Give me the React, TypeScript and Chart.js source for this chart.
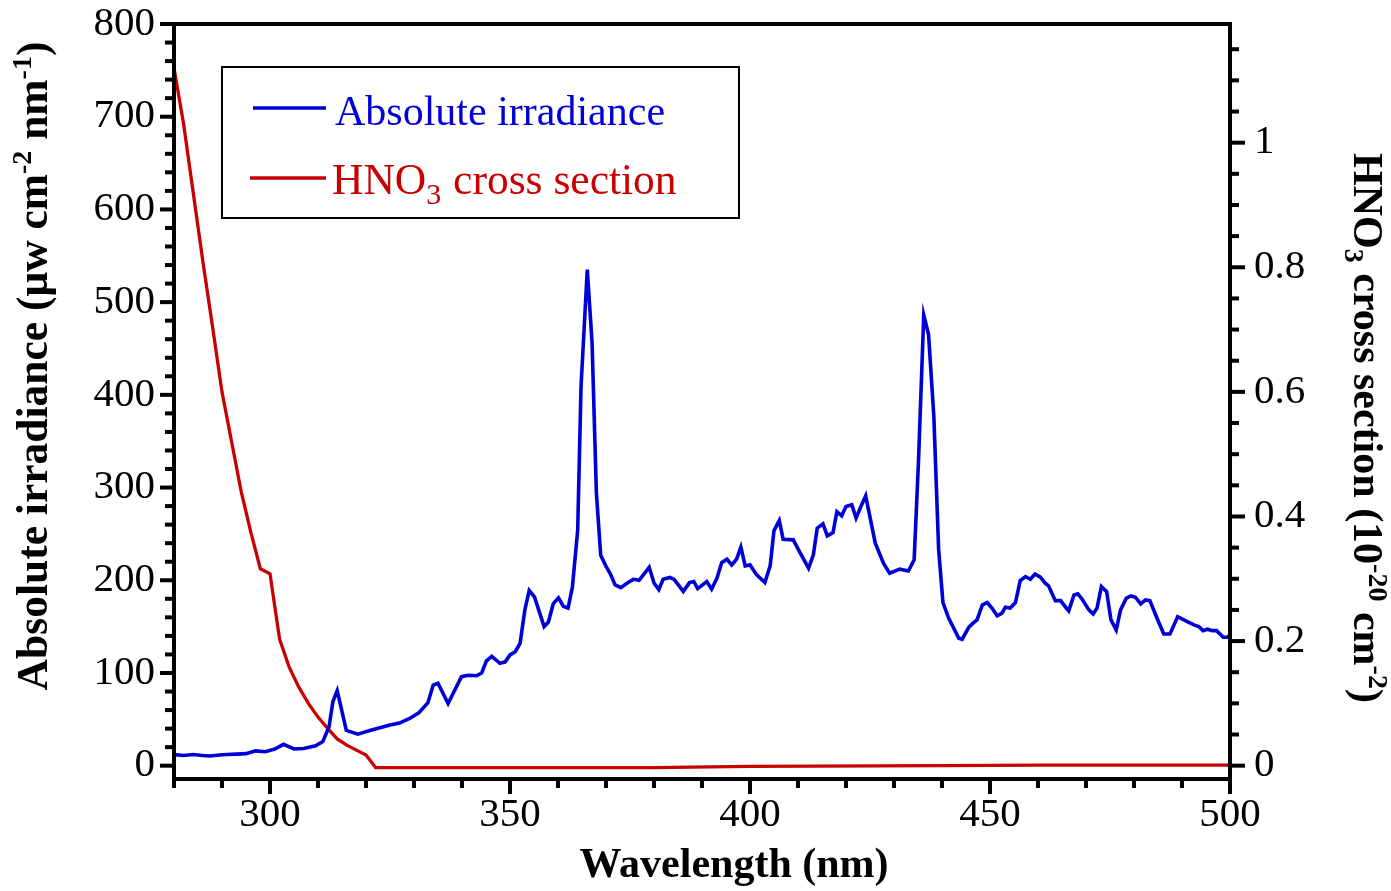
import React, { useEffect, useRef } from 'react';
import { Chart, registerables } from 'chart.js';

Chart.register(...registerables);

// Lamp spectrum: wavelength (nm) and absolute irradiance (µW cm-2 nm-1)
const irrWavelength = [
  280, 282, 284, 286, 287.5, 289.5, 291, 293, 295, 297, 299, 301, 302.8, 305, 307, 309.5, 311, 312.3, 313.1, 314,
  315.9, 318.3, 320.8, 322.9, 325, 327, 329.1, 331, 332.9, 334, 335, 337.1, 339.9, 341.3, 343, 344.1, 345.1, 346.2,
  347.9, 349, 350, 351.1, 352.1, 353.1, 354, 355.1, 357.1, 358, 359, 360.1, 361.1, 362.1, 363, 364.1, 364.8, 366.1,
  367.1, 368, 368.9, 370, 371, 371.9, 373.1, 374.6, 375.7, 376.9, 379, 380, 381, 381.9, 383.3, 384.2, 386.1, 387.4,
  388.3, 389.1, 391, 392, 393.1, 394.1, 395.2, 396.2, 397.2, 398.1, 399, 400, 401.4, 403.1, 404.2, 405, 406.1, 406.9,
  409, 410.4, 412.2, 413.2, 414, 415.2, 416.1, 417.3, 418.1, 419.1, 420, 421.2, 422.1, 423.1, 424.1, 426.1, 427.8,
  429.1, 431.2, 433, 434.2, 435.1, 436.2, 437.2, 438.3, 439.3, 440.2, 441.4, 443.5, 444.2, 445.6, 446.6, 447.3, 448.4,
  449.4, 450.4, 451.5, 452.5, 453.2, 454.2, 455.3, 456.3, 457.4, 458.4, 459.4, 460.5, 461.5, 462.2, 463.6, 464.7,
  465.9, 466.4, 467.5, 468.3, 469.2, 470.6, 471.5, 472.3, 473.2, 474.3, 475.2, 476.3, 477.2, 478.4, 479.4, 480.3,
  481.4, 482.4, 483.3, 484.8, 486.2, 487.5, 489.1, 491.1, 492.5, 493.5, 494.4, 495.3, 496.3, 497.2, 498.6, 499.6, 500,
];
const irradiance = [
  12, 11, 12, 11, 10.5, 11.5, 12, 12.5, 13, 16, 15, 18, 23, 18, 18.5, 21.5, 26, 42, 69, 81,
  38, 34, 38, 41, 44, 46, 51, 57, 68, 87, 89, 67, 96, 97.5, 97, 100, 113, 118,
  110.5, 112, 119.5, 123, 132, 168, 189, 182, 150, 155, 174.5, 181, 172, 170, 192.5, 254, 409, 535,
  456, 294, 227, 215, 206, 195, 192, 197.5, 201, 200, 214, 197, 190, 201, 203, 201, 188, 197.5,
  198.6, 191, 198.6, 190.4, 202, 219, 222.7, 216.6, 222.7, 235.7, 215.5, 216.6, 205.8, 197.5, 215.5, 253.6, 264.4, 244.3,
  243.6, 230, 213, 227.4, 256.2, 260.8, 248, 251.5, 274, 269.5, 279.5, 281.4, 267, 279.5, 291, 240, 218.4,
  207.6, 212, 210, 222, 328, 486, 465, 377, 233, 176, 159, 137.5, 136.4, 149.4, 154.3, 157.2, 173.4,
  176, 170, 161.6, 164.5, 171, 170, 176, 199.7, 204, 201, 206.6, 203.3, 196.8, 194, 178, 178,
  170, 167, 184.2, 185.3, 179.6, 168, 163.7, 170, 193.2, 187.8, 157.2, 146.4, 168, 180.7, 183.1, 181.7,
  174.5, 178.8, 178, 159, 142, 142, 160.8, 155.4, 151.8, 150, 145.7, 147.2, 145.7, 145.7, 138.6, 138.6, 142,
];

// HNO3 absorption cross section (1e-20 cm2)
const hno3Wavelength = [
  280, 282, 284, 286, 288, 290, 292, 294, 296, 298, 300, 302, 304, 306, 308, 310, 312, 314, 316, 318, 320,
  322, 340, 380, 400, 440, 460, 500,
];
const hno3Cross = [
  1.12, 1.03, 0.92, 0.81, 0.706, 0.6, 0.52, 0.44, 0.375, 0.316, 0.308, 0.203, 0.158, 0.126, 0.1, 0.078, 0.06, 0.043,
  0.033, 0.025, 0.017, -0.003, -0.003, -0.003, -0.001, 0, 0.001, 0.001,
];

const xMajorTicks = [300, 350, 400, 450, 500];
const xMinorTicks = [280, 290, 310, 320, 330, 340, 360, 370, 380, 390, 410, 420, 430, 440, 460, 470, 480, 490];
const leftMajorTicks = [0, 100, 200, 300, 400, 500, 600, 700, 800];
const leftMinorTicks = [
  20, 40, 60, 80, 120, 140, 160, 180, 220, 240, 260, 280, 320, 340, 360, 380, 420, 440, 460, 480,
  520, 540, 560, 580, 620, 640, 660, 680, 720, 740, 760, 780,
];
const rightMajorTicks = [0, 0.2, 0.4, 0.6, 0.8, 1];
const rightMinorTicks = [0.05, 0.1, 0.15, 0.25, 0.3, 0.35, 0.45, 0.5, 0.55, 0.65, 0.7, 0.75, 0.85, 0.9, 0.95, 1.05, 1.1, 1.15];

const BLUE = '#0000d6';
const RED = '#c80000';
const FONT = "'Liberation Serif', 'Times New Roman', Times, serif";

type Run = { t: string; s: number; dy: number; gap?: number };

function runsWidth(ctx: CanvasRenderingContext2D, runs: Run[], bold: boolean) {
  let w = 0;
  for (const r of runs) {
    ctx.font = `${bold ? 'bold ' : ''}${r.s}px ${FONT}`;
    w += ctx.measureText(r.t).width + (r.gap || 0);
  }
  return w;
}

function drawRuns(ctx: CanvasRenderingContext2D, runs: Run[], bold: boolean, x0: number) {
  let x = x0;
  for (const r of runs) {
    ctx.font = `${bold ? 'bold ' : ''}${r.s}px ${FONT}`;
    ctx.fillText(r.t, x, r.dy);
    x += ctx.measureText(r.t).width + (r.gap || 0);
  }
}

const leftTitle: Run[] = [
  { t: 'Absolute irradiance (\u03bcw cm', s: 43.5, dy: 0 },
  { t: '-2', s: 28, dy: -16 },
  { t: ' nm', s: 43.5, dy: 0 },
  { t: '-1', s: 28, dy: -16 },
  { t: ')', s: 43.5, dy: 0 },
];
const rightTitle: Run[] = [
  { t: 'HNO', s: 42, dy: 0 },
  { t: '3', s: 28, dy: 9 },
  { t: ' cross section (10', s: 42, dy: 0 },
  { t: '-20', s: 28, dy: -15 },
  { t: ' cm', s: 42, dy: 0 },
  { t: '-2', s: 28, dy: -15 },
  { t: ')', s: 42, dy: 0 },
];
const bottomTitle: Run[] = [{ t: 'Wavelength (nm)', s: 42, dy: 0 }];
const legendBlue: Run[] = [{ t: 'Absolute irradiance', s: 42, dy: 0 }];
const legendRed: Run[] = [
  { t: 'HNO', s: 43.5, dy: 0 },
  { t: '3', s: 30, dy: 10, gap: 1 },
  { t: ' cross section', s: 43.5, dy: 0 },
];

const framePlugin = {
  id: 'frameAndDecor',
  afterDraw(chart: any) {
    const ctx: CanvasRenderingContext2D = chart.ctx;
    const { left, right, top, bottom } = chart.chartArea;
    const xs = chart.scales.x;
    const yl = chart.scales.y;
    const yr = chart.scales.y2;
    ctx.save();
    ctx.strokeStyle = '#000';
    ctx.lineCap = 'butt';
    ctx.lineWidth = 4;

    // tick marks
    const tick = (x1: number, y1: number, x2: number, y2: number) => {
      ctx.beginPath();
      ctx.moveTo(x1, y1);
      ctx.lineTo(x2, y2);
      ctx.stroke();
    };
    for (const v of xMajorTicks) { const p = xs.getPixelForValue(v); tick(p, bottom, p, bottom + 15); }
    for (const v of xMinorTicks) { const p = xs.getPixelForValue(v); tick(p, bottom, p, bottom + 9); }
    for (const v of leftMajorTicks) { const p = yl.getPixelForValue(v); tick(left, p, left - 14, p); }
    for (const v of leftMinorTicks) { const p = yl.getPixelForValue(v); tick(left, p, left - 9, p); }
    for (const v of rightMajorTicks) { const p = yr.getPixelForValue(v); tick(right, p, right + 15, p); }
    for (const v of rightMinorTicks) { const p = yr.getPixelForValue(v); tick(right, p, right + 9, p); }

    // frame
    ctx.lineJoin = 'miter';
    ctx.strokeRect(left, top, right - left, bottom - top);

    // legend
    ctx.fillStyle = '#fff';
    ctx.fillRect(222, 67, 517, 151);
    ctx.lineWidth = 2;
    ctx.strokeRect(222, 67, 517, 151);
    ctx.lineWidth = 3.5;
    ctx.strokeStyle = BLUE;
    tick(253, 108, 326, 108);
    ctx.strokeStyle = RED;
    tick(250, 178, 326, 178);
    ctx.textBaseline = 'alphabetic';
    ctx.textAlign = 'left';
    ctx.fillStyle = BLUE;
    ctx.save(); ctx.translate(0, 125); drawRuns(ctx, legendBlue, false, 335); ctx.restore();
    ctx.fillStyle = RED;
    ctx.save(); ctx.translate(0, 194); drawRuns(ctx, legendRed, false, 332); ctx.restore();

    // axis titles
    ctx.fillStyle = '#000';
    let w = runsWidth(ctx, bottomTitle, true);
    ctx.save(); ctx.translate(734, 877); drawRuns(ctx, bottomTitle, true, -w / 2); ctx.restore();
    w = runsWidth(ctx, leftTitle, true);
    ctx.save(); ctx.translate(47, 366); ctx.rotate(-Math.PI / 2); drawRuns(ctx, leftTitle, true, -w / 2); ctx.restore();
    w = runsWidth(ctx, rightTitle, true);
    ctx.save(); ctx.translate(1354, 428); ctx.rotate(Math.PI / 2); drawRuns(ctx, rightTitle, true, -w / 2); ctx.restore();
    ctx.restore();
  },
};

export default function App() {
  const canvasRef = useRef<HTMLCanvasElement | null>(null);

  useEffect(() => {
    if (!canvasRef.current) return;
    const tickFont = { family: FONT, size: 41, lineHeight: 1 };
    const noPad = (s: any) => {
      s.paddingTop = 0;
      s.paddingBottom = 0;
      s.paddingLeft = 0;
      s.paddingRight = 0;
    };
    const chart = new Chart(canvasRef.current, {
      type: 'line',
      data: {
        datasets: [
          {
            label: 'Absolute irradiance',
            data: irrWavelength.map((x, i) => ({ x, y: irradiance[i] })),
            borderColor: BLUE,
            borderWidth: 3.6,
            pointRadius: 0,
            tension: 0,
            yAxisID: 'y',
          },
          {
            label: 'HNO3 cross section',
            data: hno3Wavelength.map((x, i) => ({ x, y: hno3Cross[i] })),
            borderColor: RED,
            borderWidth: 3.3,
            pointRadius: 0,
            tension: 0,
            yAxisID: 'y2',
          },
        ],
      },
      options: {
        animation: false,
        responsive: false,
        events: [],
        layout: { padding: { top: 24, left: 0, right: 0, bottom: 0 } },
        plugins: { legend: { display: false }, tooltip: { enabled: false }, title: { display: false } },
        scales: {
          x: {
            type: 'linear',
            min: 280,
            max: 500,
            grid: { display: false, drawTicks: false },
            border: { display: false },
            afterBuildTicks: (s: any) => { s.ticks = xMajorTicks.map((value) => ({ value })); },
            afterFit: (s: any) => { s.height = 112; noPad(s); },
            ticks: { font: tickFont, color: '#000', padding: 16, maxRotation: 0, autoSkip: false },
          },
          y: {
            type: 'linear',
            position: 'left',
            min: -14.35,
            max: 800,
            grid: { display: false, drawTicks: false },
            border: { display: false },
            afterBuildTicks: (s: any) => { s.ticks = leftMajorTicks.map((value) => ({ value })); },
            afterFit: (s: any) => { s.width = 174; noPad(s); },
            ticks: { font: tickFont, color: '#000', padding: 19, autoSkip: false },
          },
          y2: {
            type: 'linear',
            position: 'right',
            min: -0.0214,
            max: 1.1905,
            grid: { display: false, drawTicks: false },
            border: { display: false },
            afterBuildTicks: (s: any) => { s.ticks = rightMajorTicks.map((value) => ({ value })); },
            afterFit: (s: any) => { s.width = 161; noPad(s); },
            ticks: {
              font: tickFont,
              color: '#000',
              padding: 24,
              autoSkip: false,
              callback: (v: any) => String(Math.round(Number(v) * 10) / 10),
            },
          },
        },
      },
      plugins: [framePlugin],
    } as any);
    return () => chart.destroy();
  }, []);

  return (
    <div style={{ position: 'fixed', left: 0, top: 0, width: 1391, height: 891, background: '#fff' }}>
      <canvas ref={canvasRef} width={1391} height={891} style={{ display: 'block', width: 1391, height: 891 }} />
    </div>
  );
}
